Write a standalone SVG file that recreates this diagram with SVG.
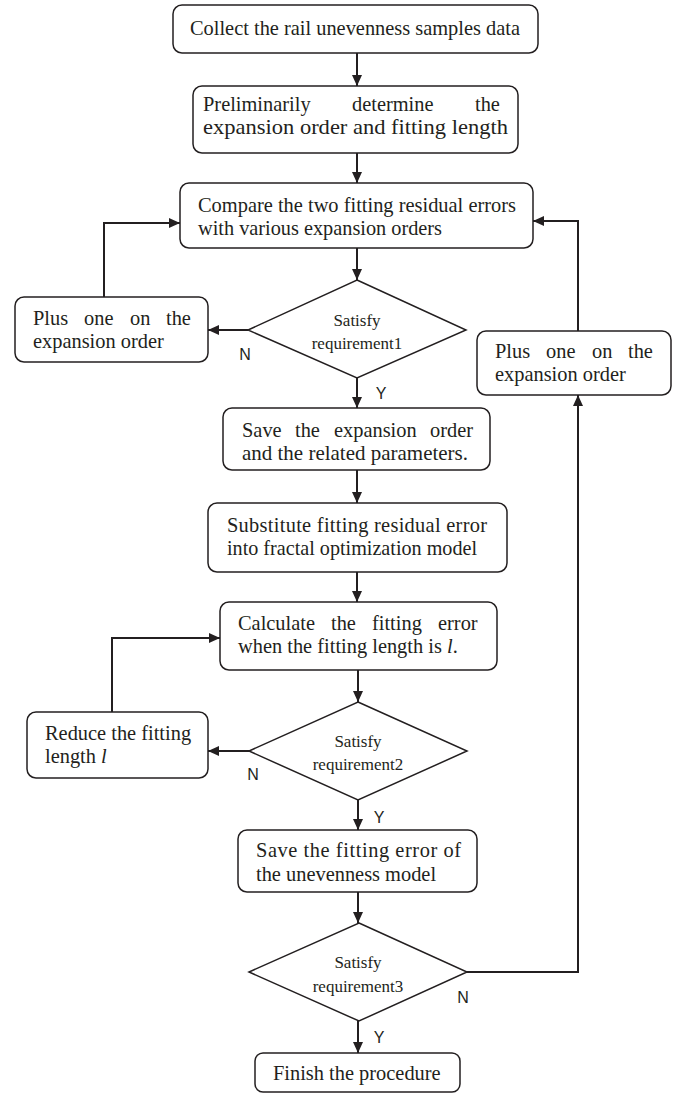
<svg xmlns="http://www.w3.org/2000/svg" width="686" height="1094" viewBox="0 0 686 1094">
<defs>
<marker id="ah" markerUnits="userSpaceOnUse" markerWidth="11" markerHeight="10" refX="11" refY="5" orient="auto">
<path d="M0,0 L11,5 L0,10 z" fill="#231f20"/>
</marker>
<style>
.box{fill:#fff;stroke:#231f20;stroke-width:1.5}
.t{font-family:"Liberation Serif","Times New Roman",serif;font-size:20.4px;fill:#231f20}
.d{font-family:"Liberation Serif","Times New Roman",serif;font-size:17px;fill:#231f20;text-anchor:middle}
.lb{font-family:"Liberation Sans",Arial,sans-serif;font-size:16px;fill:#231f20;text-anchor:middle}
.c{fill:none;stroke:#231f20;stroke-width:2;marker-end:url(#ah)}
</style>
</defs>
<rect width="686" height="1094" fill="#fff"/>

<g id="connectors">
<line class="c" x1="357" y1="53" x2="357" y2="86"/>
<line class="c" x1="357" y1="153" x2="357" y2="183"/>
<line class="c" x1="357" y1="248" x2="357" y2="280"/>
<line class="c" x1="248" y1="330" x2="208" y2="330"/>
<polyline class="c" points="104,297 104,223 180,223"/>
<line class="c" x1="357" y1="378" x2="357" y2="408"/>
<line class="c" x1="357" y1="470" x2="357" y2="503"/>
<line class="c" x1="357" y1="572" x2="357" y2="602"/>
<line class="c" x1="358" y1="670" x2="358" y2="702"/>
<line class="c" x1="249" y1="751" x2="208" y2="751"/>
<polyline class="c" points="112,712 112,638 220,638"/>
<line class="c" x1="358" y1="800" x2="358" y2="830"/>
<line class="c" x1="358" y1="892" x2="358" y2="923"/>
<polyline class="c" points="467,972 578,972 578,395"/>
<polyline class="c" points="578,331 578,221 533,221"/>
<line class="c" x1="358" y1="1021" x2="358" y2="1053"/>
<text class="lb" x="245" y="360">N</text>
<text class="lb" x="381" y="399">Y</text>
<text class="lb" x="253" y="780">N</text>
<text class="lb" x="379" y="823">Y</text>
<text class="lb" x="463" y="1003">N</text>
<text class="lb" x="379" y="1043">Y</text>
</g>

<g id="n1">
<rect class="box" x="173" y="5" width="365" height="48" rx="9"/>
<text class="t" x="190" y="35" textLength="330" lengthAdjust="spacingAndGlyphs">Collect the rail unevenness samples data</text>
</g>

<g id="n2">
<rect class="box" x="193" y="86" width="325" height="67" rx="9"/>
<text class="t" y="111"><tspan x="203">Preliminarily</tspan> <tspan x="352">determine</tspan> <tspan x="475">the</tspan></text>
<text class="t" x="203" y="134" textLength="305" lengthAdjust="spacingAndGlyphs">expansion order and fitting length</text>
</g>

<g id="n3">
<rect class="box" x="180" y="183" width="353" height="65" rx="9"/>
<text class="t" x="198" y="212" textLength="318" lengthAdjust="spacingAndGlyphs">Compare the two fitting residual errors</text>
<text class="t" x="198" y="235" textLength="244" lengthAdjust="spacingAndGlyphs">with various expansion orders</text>
</g>

<g id="d1">
<polygon class="box" points="357,280 466,330 357,378 248,330"/>
<text class="d" x="357" y="326">Satisfy</text>
<text class="d" x="357" y="349">requirement1</text>
</g>

<g id="n4">
<rect class="box" x="15" y="297" width="193" height="65" rx="9"/>
<text class="t" y="325"><tspan x="33">Plus</tspan> <tspan x="84">one</tspan> <tspan x="130">on</tspan> <tspan x="166">the</tspan></text>
<text class="t" x="33" y="348">expansion order</text>
</g>

<g id="n5">
<rect class="box" x="477" y="331" width="194" height="64" rx="9"/>
<text class="t" y="358"><tspan x="495">Plus</tspan> <tspan x="546">one</tspan> <tspan x="592">on</tspan> <tspan x="628">the</tspan></text>
<text class="t" x="495" y="381">expansion order</text>
</g>

<g id="n6">
<rect class="box" x="223" y="408" width="267" height="62" rx="9"/>
<text class="t" y="437"><tspan x="242">Save</tspan> <tspan x="295">the</tspan> <tspan x="334">expansion</tspan> <tspan x="430">order</tspan></text>
<text class="t" x="242" y="460" textLength="226" lengthAdjust="spacingAndGlyphs">and the related parameters.</text>
</g>

<g id="n7">
<rect class="box" x="208" y="503" width="299" height="69" rx="9"/>
<text class="t" x="227" y="532" textLength="260" lengthAdjust="spacing">Substitute fitting residual error</text>
<text class="t" x="227" y="555" textLength="250" lengthAdjust="spacingAndGlyphs">into fractal optimization model</text>
</g>

<g id="n8">
<rect class="box" x="220" y="602" width="277" height="68" rx="9"/>
<text class="t" y="630"><tspan x="238">Calculate</tspan> <tspan x="331">the</tspan> <tspan x="372">fitting</tspan> <tspan x="438">error</tspan></text>
<text class="t" x="238" y="653">when the fitting length is <tspan font-style="italic">l</tspan>.</text>
</g>

<g id="d2">
<polygon class="box" points="358,702 467,751 358,800 249,751"/>
<text class="d" x="358" y="747">Satisfy</text>
<text class="d" x="358" y="770">requirement2</text>
</g>

<g id="n9">
<rect class="box" x="27" y="712" width="181" height="66" rx="9"/>
<text class="t" x="45" y="740">Reduce the fitting</text>
<text class="t" x="45" y="763">length <tspan font-style="italic">l</tspan></text>
</g>

<g id="n10">
<rect class="box" x="238" y="830" width="239" height="62" rx="9"/>
<text class="t" x="256" y="857" textLength="205" lengthAdjust="spacing">Save the fitting error of</text>
<text class="t" x="256" y="881">the unevenness model</text>
</g>

<g id="d3">
<polygon class="box" points="359,923 467,972 359,1021 249,972"/>
<text class="d" x="358" y="968">Satisfy</text>
<text class="d" x="358" y="992">requirement3</text>
</g>

<g id="n11">
<rect class="box" x="255" y="1053" width="205" height="39" rx="8"/>
<text class="t" x="273" y="1080">Finish the procedure</text>
</g>
</svg>
